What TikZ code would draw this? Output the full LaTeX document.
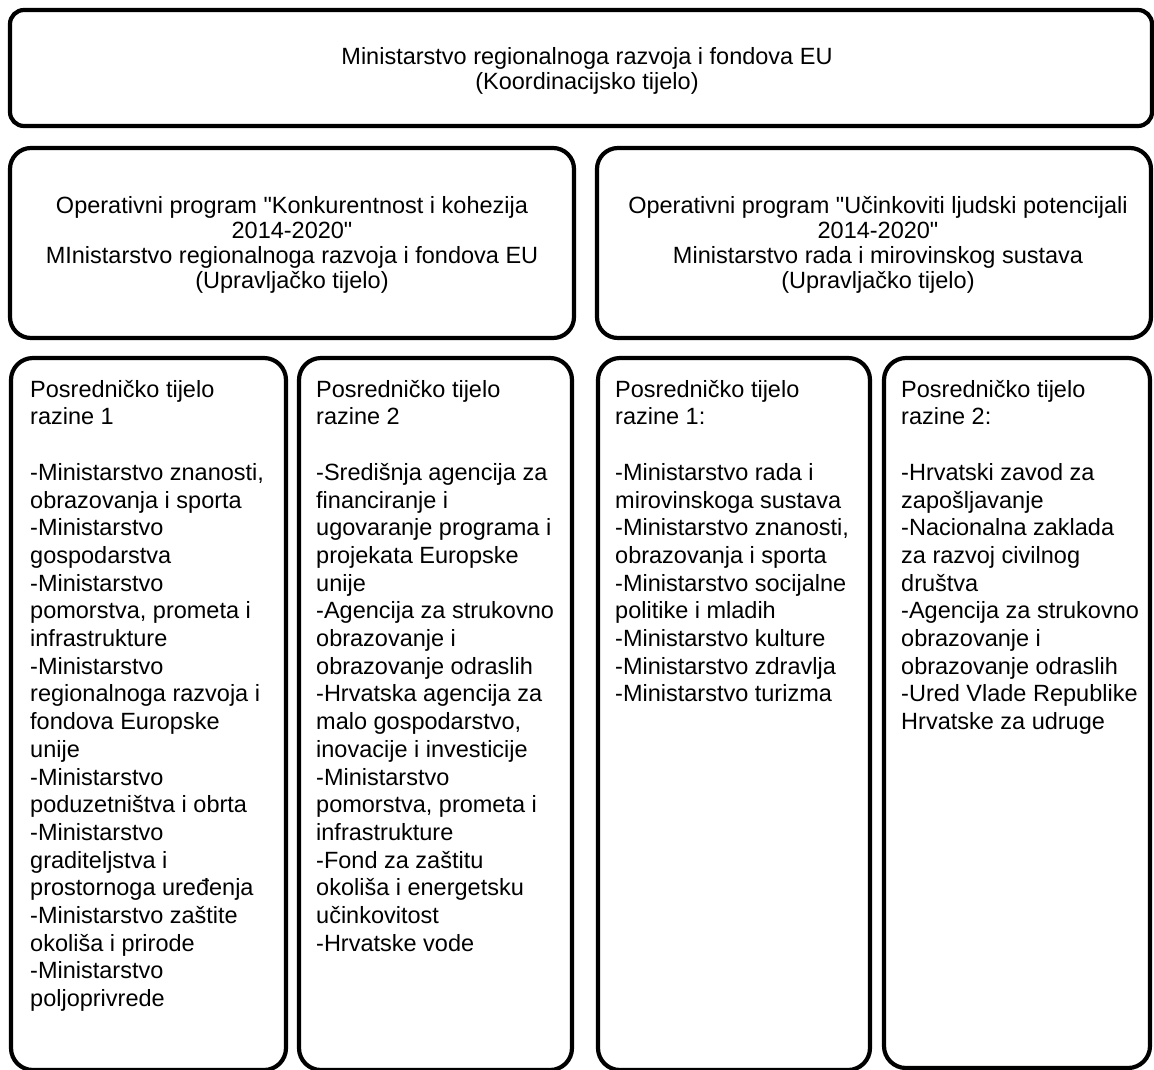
\documentclass[tikz,border=0pt]{standalone}
\usepackage{fontspec}
\setmainfont{Liberation Sans}[Ligatures=TeXOff]
\begin{document}
\begin{tikzpicture}[x=1pt,y=-1pt,
  box/.style={draw=black, line width=4.2pt, rectangle, inner sep=0pt, outer sep=0pt},
  topbox/.style={box, rounded corners=14pt},
  midbox/.style={box, rounded corners=21pt},
  lowbox/.style={box, rounded corners=22pt},
  ctext/.style={inner sep=0pt, align=center, font=\fontsize{23.5}{25}\selectfont},
  ltext/.style={inner sep=0pt, align=left, anchor=north west, font=\fontsize{23.5}{27.7}\selectfont}
]
\clip (0,0) rectangle (1154,1069);
\fill[white] (0,0) rectangle (1154,1069);

% boxes
\node[topbox, minimum width=1142pt, minimum height=116pt] (top) at (581,68) {};
\node[midbox, minimum width=564pt, minimum height=190pt] (opl) at (292,243) {};
\node[midbox, minimum width=554pt, minimum height=190pt] (opr) at (874,243) {};
\node[lowbox, minimum width=275pt, minimum height=712pt] (b1) at (148.5,714) {};
\node[lowbox, minimum width=273pt, minimum height=712pt] (b2) at (435.5,714) {};
\node[lowbox, minimum width=272pt, minimum height=712pt] (b3) at (734,714) {};
\node[lowbox, minimum width=266pt, minimum height=710pt] (b4) at (1017,713) {};

% centred texts
\node[ctext] (ttop) at (587,71) {Ministarstvo regionalnoga razvoja i fondova EU\\(Koordinacijsko tijelo)};
\node[ctext] (topl) at (292,245) {Operativni program "Konkurentnost i kohezija\\2014-2020"\\MInistarstvo regionalnoga razvoja i fondova EU\\(Upravljačko tijelo)};
\node[ctext] (topr) at (878,245) {Operativni program "Učinkoviti ljudski potencijali\\2014-2020"\\Ministarstvo rada i mirovinskog sustava\\(Upravljačko tijelo)};

% left-aligned texts
\node[ltext] (t1) at (30,377.6) {\strut Posredničko tijelo\\razine 1\\[27.7pt]-Ministarstvo znanosti,\\obrazovanja i sporta\\-Ministarstvo\\gospodarstva\\-Ministarstvo\\pomorstva, prometa i\\infrastrukture\\-Ministarstvo\\regionalnoga razvoja i\\fondova Europske\\unije\\-Ministarstvo\\poduzetništva i obrta\\-Ministarstvo\\graditeljstva i\\prostornoga uređenja\\-Ministarstvo zaštite\\okoliša i prirode\\-Ministarstvo\\poljoprivrede};
\node[ltext] (t2) at (316,377.6) {\strut Posredničko tijelo\\razine 2\\[27.7pt]-Središnja agencija za\\financiranje i\\ugovaranje programa i\\projekata Europske\\unije\\-Agencija za strukovno\\obrazovanje i\\obrazovanje odraslih\\-Hrvatska agencija za\\malo gospodarstvo,\\inovacije i investicije\\-Ministarstvo\\pomorstva, prometa i\\infrastrukture\\-Fond za zaštitu\\okoliša i energetsku\\učinkovitost\\-Hrvatske vode};
\node[ltext] (t3) at (615,377.6) {\strut Posredničko tijelo\\razine 1:\\[27.7pt]-Ministarstvo rada i\\mirovinskoga sustava\\-Ministarstvo znanosti,\\obrazovanja i sporta\\-Ministarstvo socijalne\\politike i mladih\\-Ministarstvo kulture\\-Ministarstvo zdravlja\\-Ministarstvo turizma};
\node[ltext] (t4) at (901,377.6) {\strut Posredničko tijelo\\razine 2:\\[27.7pt]-Hrvatski zavod za\\zapošljavanje\\-Nacionalna zaklada\\za razvoj civilnog\\društva\\-Agencija za strukovno\\obrazovanje i\\obrazovanje odraslih\\-Ured Vlade Republike\\Hrvatske za udruge};
\end{tikzpicture}
\end{document}
